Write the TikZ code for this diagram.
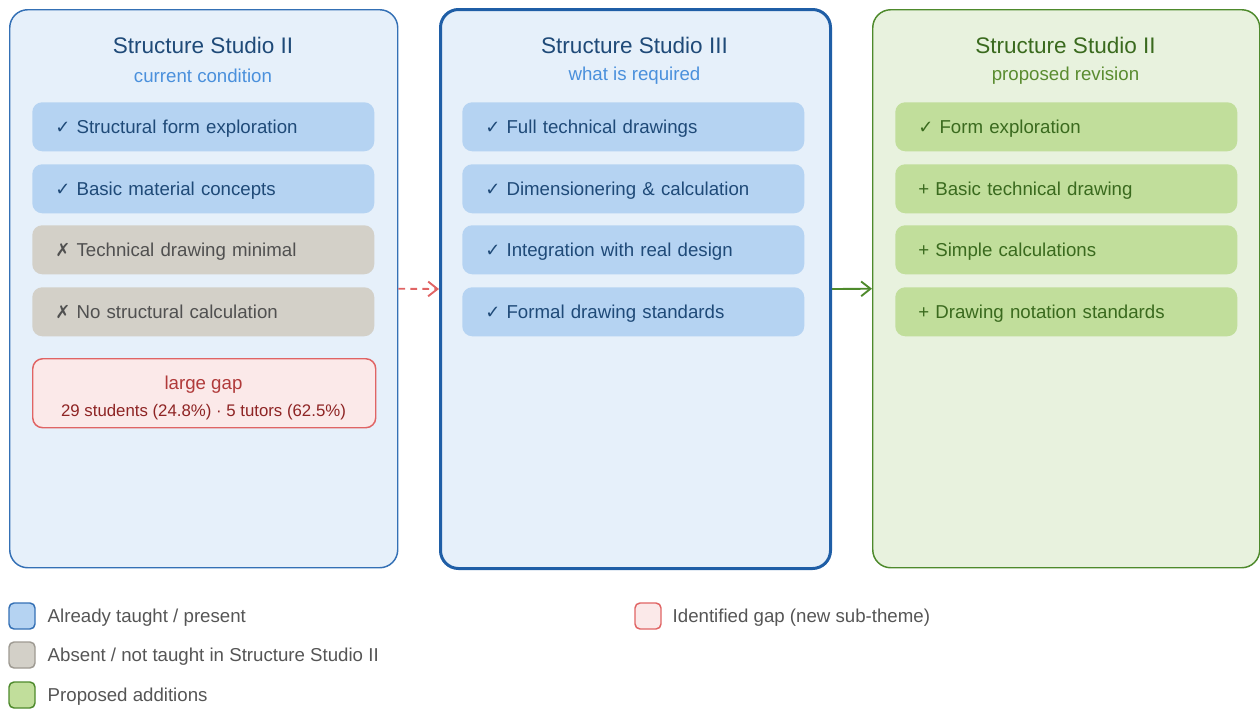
\documentclass[tikz,border=0pt]{standalone}
\usepackage{fontspec}
\setmainfont{Liberation Sans}
\newfontfamily\symf{DejaVu Sans}
\usetikzlibrary{arrows.meta}

% palette
\definecolor{bluebg}{HTML}{E6F0FA}
\definecolor{blueline}{HTML}{3470B5}
\definecolor{bluedark}{HTML}{1F5EA6}
\definecolor{bluefill}{HTML}{B5D3F2}
\definecolor{bluetext}{HTML}{1F4A78}
\definecolor{bluesub}{HTML}{4A90DC}
\definecolor{grayfill}{HTML}{D3D0C8}
\definecolor{grayline}{HTML}{9E9A92}
\definecolor{graytext}{HTML}{505050}
\definecolor{redfill}{HTML}{FBE9E9}
\definecolor{redline}{HTML}{E06464}
\definecolor{redtext}{HTML}{B03A3A}
\definecolor{reddark}{HTML}{8E2424}
\definecolor{greenbg}{HTML}{E8F2DE}
\definecolor{greenline}{HTML}{4E8A2C}
\definecolor{greenfill}{HTML}{C1DE9B}
\definecolor{greentext}{HTML}{3A6A1E}
\definecolor{greensub}{HTML}{5A8C30}
\definecolor{legendtext}{HTML}{555555}

\newcommand{\ck}{{\symf\fontsize{13.5}{14}\selectfont\char"2713}}
\newcommand{\xm}{{\symf\fontsize{13.5}{14}\selectfont\char"2717}}

\begin{document}
\begin{tikzpicture}[x=0.75pt,y=-0.75pt,
  panel/.style={rounded corners=13.5pt, anchor=north west, inner sep=0pt},
  item/.style={rounded corners=7.5pt, anchor=north west, inner xsep=17.25pt,
    inner ysep=0pt, text width=222pt, align=left, minimum height=36.75pt,
    text height=12pt, text depth=2pt,
    font=\fontsize{14}{16}\selectfont},
  bluei/.style={item, fill=bluefill, text=bluetext},
  grayi/.style={item, fill=grayfill, text=graytext},
  greeni/.style={item, fill=greenfill, text=greentext},
  title/.style={font=\fontsize{16.9}{19}\selectfont},
  subtitle/.style={font=\fontsize{14}{16}\selectfont},
  swatch/.style={rounded corners=3.75pt, minimum size=19.5pt, inner sep=0pt, line width=1.1pt},
  legtext/.style={anchor=west, text=legendtext, text height=12pt, text depth=2pt,
    font=\fontsize{14}{16}\selectfont},
  barb/.style={-{Straight Barb[length=7pt,width=11pt,line width=1.4pt]}},
]
\useasboundingbox (0,0) rectangle (1260,711);

% ---- panels ----
\node[panel, draw=blueline, fill=bluebg, line width=1.1pt,
      minimum width=291pt, minimum height=418.5pt] (pL) at (9,9) {};
\node[panel, draw=bluedark, fill=bluebg, line width=2.25pt,
      minimum width=292.5pt, minimum height=419.25pt] (pM) at (439,8) {};
\node[panel, draw=greenline, fill=greenbg, line width=1.1pt,
      minimum width=290.25pt, minimum height=418.5pt] (pR) at (872,9) {};

% ---- left: current condition ----
\node[title, text=bluetext] (tL) at (203,45.5) {Structure Studio II};
\node[subtitle, text=bluesub] (sL) at (203,75.5) {current condition};
\node[bluei] (l1) at (32,102) {\ck\ Structural form exploration};
\node[bluei] (l2) at (32,164) {\ck\ Basic material concepts};
\node[grayi] (l3) at (32,225) {\xm\ Technical drawing minimal};
\node[grayi] (l4) at (32,287) {\xm\ No structural calculation};
\node[panel, rounded corners=7.5pt, draw=redline, fill=redfill, line width=1.1pt,
      minimum width=257.25pt, minimum height=51.75pt] (gap) at (32,358) {};
\node[text=redtext, font=\fontsize{14}{16}\selectfont] (gapA) at (203.5,385) {large gap};
\node[text=reddark, font=\fontsize{12.6}{15}\selectfont] (gapB) at (203.5,412)
  {29 students (24.8\%) · 5 tutors (62.5\%)};

% ---- middle: what is required ----
\node[title, text=bluetext] (tM) at (634.5,45.5) {Structure Studio III};
\node[subtitle, text=bluesub] (sM) at (634.5,75.5) {what is required};
\node[bluei] (m1) at (462,102) {\ck\ Full technical drawings};
\node[bluei] (m2) at (462,164) {\ck\ Dimensionering \& calculation};
\node[bluei] (m3) at (462,225) {\ck\ Integration with real design};
\node[bluei] (m4) at (462,287) {\ck\ Formal drawing standards};

% ---- right: proposed revision ----
\node[title, text=greentext] (tR) at (1065.5,45.5) {Structure Studio II};
\node[subtitle, text=greensub] (sR) at (1065.5,75.5) {proposed revision};
\node[greeni] (r1) at (895,102) {\ck\ Form exploration};
\node[greeni] (r2) at (895,164) {+ Basic technical drawing};
\node[greeni] (r3) at (895,225) {+ Simple calculations};
\node[greeni] (r4) at (895,287) {+ Drawing notation standards};

% ---- connectors ----
\draw[redline, line width=1.4pt, dash pattern=on 5pt off 4pt, barb] (pL.east) -- (pM.west);
\draw[greenline, line width=1.4pt, barb] (pM.east) -- (pR.west);

% ---- legend ----
\node[swatch, draw=blueline, fill=bluefill] (k1) at (22,616) {};
\node[legtext] (k1t) at (43,616) {Already taught / present};
\node[swatch, draw=grayline, fill=grayfill] (k2) at (22,655) {};
\node[legtext] (k2t) at (43,655) {Absent / not taught in Structure Studio II};
\node[swatch, draw=greenline, fill=greenfill] (k3) at (22,695) {};
\node[legtext] (k3t) at (43,695) {Proposed additions};
\node[swatch, draw=redline, fill=redfill] (k4) at (648,616) {};
\node[legtext] (k4t) at (668,616) {Identified gap (new sub-theme)};
\end{tikzpicture}
\end{document}
